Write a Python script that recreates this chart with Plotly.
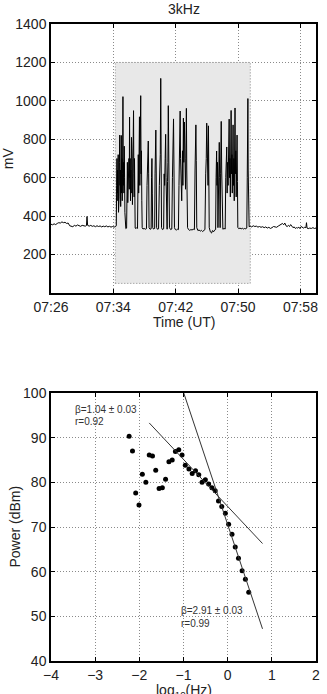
import plotly.graph_objects as go

# ---------------- data: top panel (3 kHz signal, minutes after 07:00) ----------------
pre_t = [26.0, 26.2, 26.4, 26.6, 26.8, 27.0, 27.2, 27.4, 27.6, 27.8, 28.0, 28.2, 28.4, 28.6,
         28.8, 29.0, 29.2, 29.4, 29.6, 29.8, 30.0, 30.2, 30.4, 30.55, 30.62, 30.7, 30.9, 31.1,
         31.3, 31.5, 31.7, 31.9, 32.1, 32.3, 32.5, 32.7, 32.9, 33.1, 33.3, 33.5, 33.7, 33.9,
         34.1, 34.3]
pre_v = [358, 355, 360, 356, 362, 366, 364, 370, 366, 368, 362, 364, 350, 348,
         345, 352, 348, 354, 350, 347, 352, 349, 348, 351, 398, 352, 348, 352,
         347, 350, 345, 350, 346, 349, 344, 348, 345, 349, 344, 347, 343, 346,
         343, 346]

burst_t = [34.38, 34.42, 34.46, 34.50, 34.54, 34.58, 34.62, 34.66, 34.70, 34.74, 34.78, 34.82,
           34.86, 34.90, 34.94, 34.98, 35.02, 35.06, 35.10, 35.14, 35.18, 35.23, 35.27, 35.31,
           35.36, 35.40, 35.44, 35.48, 35.52, 35.60, 35.70,
           35.75, 35.80, 35.85, 35.90, 35.95, 36.00, 36.04, 36.08, 36.12, 36.16, 36.20, 36.25,
           36.29, 36.33, 36.37, 36.41, 36.45, 36.50, 36.54, 36.59, 36.63, 36.67, 36.71, 36.75,
           36.80, 36.90, 37.00, 37.10,
           37.15, 37.20, 37.25, 37.30, 37.35, 37.40, 37.45, 37.51, 37.56, 37.60, 37.65, 37.70,
           37.80, 37.95, 38.10, 38.25,
           38.32, 38.38, 38.43, 38.48, 38.53, 38.58, 38.70, 38.85,
           38.90, 38.95, 39.00, 39.05, 39.15, 39.30,
           39.35, 39.40, 39.45, 39.50, 39.55, 39.65, 39.80,
           39.90, 39.95, 40.02, 40.08, 40.13, 40.18, 40.30, 40.45,
           40.52, 40.58, 40.65, 40.71, 40.76, 40.82, 40.90,
           40.95, 41.00, 41.05, 41.10, 41.15, 41.20, 41.35, 41.50,
           41.58, 41.65, 41.72, 41.78, 41.84, 41.95, 42.10, 42.25, 42.35,
           42.42, 42.47, 42.52, 42.57, 42.62, 42.67, 42.72, 42.77, 42.82, 42.87, 42.92, 42.99,
           43.04, 43.11, 43.16, 43.21, 43.26, 43.31, 43.37, 43.42, 43.47, 43.52,
           43.65, 43.80, 43.95, 44.10, 44.25, 44.40,
           44.48, 44.54, 44.59, 44.64, 44.70,
           44.85, 45.00, 45.15, 45.30, 45.45, 45.60, 45.75,
           45.85, 45.92, 45.98, 46.04, 46.10, 46.15, 46.20, 46.25, 46.30,
           46.45, 46.60, 46.72, 46.85, 47.00, 47.12,
           47.18, 47.25, 47.30, 47.36, 47.42, 47.48, 47.54, 47.59, 47.64, 47.70, 47.76, 47.84,
           47.90, 47.96, 48.05, 48.20, 48.35,
           48.42, 48.48, 48.55, 48.60, 48.66, 48.72, 48.78, 48.86, 48.91, 48.96, 49.01, 49.06,
           49.11, 49.16, 49.21, 49.26, 49.31, 49.36, 49.41, 49.46, 49.51, 49.56, 49.61, 49.66,
           49.71, 49.76, 49.81, 49.87, 49.92, 49.97,
           50.10, 50.25, 50.40, 50.55, 50.70, 50.85, 51.00, 51.12,
           51.18, 51.22, 51.26, 51.30, 51.35, 51.42]
burst_v = [350, 560, 700, 520, 640, 480, 720, 420, 600, 500, 680, 822,
           560, 640, 450, 600, 820, 520, 700, 480, 620, 1022, 560, 680,
           520, 764, 600, 420, 345, 335, 338,
           560, 680, 470, 620, 500, 700, 540, 916, 600, 700, 480, 640,
           520, 810, 560, 700, 460, 620, 540, 949, 620, 500, 700, 380,
           338, 335, 340, 336,
           600, 720, 520, 760, 917, 560, 700, 1027, 620, 740, 480, 340,
           333, 336, 332, 335,
           560, 680, 600, 791, 620, 340, 332, 334,
           600, 700, 520, 340, 333, 336,
           620, 700, 848, 640, 340, 332, 334,
           560, 640, 720, 1117, 640, 340, 330, 334,
           620, 560, 700, 826, 600, 340, 332,
           580, 680, 975, 720, 560, 340, 330, 333,
           600, 720, 906, 640, 340, 330, 328, 332, 330,
           560, 720, 640, 947, 700, 520, 680, 480, 620, 740, 560, 910,
           680, 890, 620, 760, 540, 700, 961, 640, 500, 340,
           330, 326, 330, 328, 332, 330,
           640, 720, 875, 690, 340,
           325, 328, 322, 326, 320, 325, 330,
           620, 700, 884, 650, 720, 560, 870, 640, 340,
           318, 312, 325, 318, 328, 330,
           600, 739, 560, 680, 340, 560, 700, 784, 600, 340, 620, 893,
           640, 340, 332, 336, 333,
           600, 700, 760, 520, 680, 560, 720, 905, 600, 700, 500, 660,
           950, 620, 720, 520, 680, 875, 560, 700, 480, 640, 963, 620,
           740, 500, 660, 822, 580, 340,
           335, 338, 334, 337, 333, 336, 334, 338,
           600, 700, 1012, 640, 560, 345]

post_t = [51.55, 51.75, 51.95, 52.15, 52.35, 52.55, 52.75, 52.95, 53.15, 53.35, 53.55, 53.75,
          53.95, 54.15, 54.35, 54.55, 54.75, 54.95, 55.15, 55.35, 55.55, 55.7, 55.85, 56.0,
          56.15, 56.3, 56.45, 56.6, 56.75, 56.9, 57.05, 57.2, 57.35, 57.5, 57.65, 57.8,
          57.95, 58.1, 58.25, 58.4, 58.55, 58.7, 58.78, 58.85, 59.0, 59.2, 59.4, 59.6,
          59.8, 60.0]
post_v = [348, 344, 350, 346, 348, 343, 346, 342, 345, 340, 344, 338,
          342, 336, 340, 346, 344, 342, 348, 352, 358, 362, 355, 364,
          350, 346, 352, 346, 356, 344, 340, 344, 336, 340, 338, 342,
          336, 346, 340, 338, 342, 340, 366, 338, 335, 338, 336, 340,
          336, 338]

time_min = pre_t + burst_t + post_t
signal_mv = pre_v + burst_v + post_v

time_ticks = [26, 34, 42, 50, 58]
time_labels = ["07:26", "07:34", "07:42", "07:50", "07:58"]
mv_ticks = [200, 400, 600, 800, 1000, 1200, 1400]

shade_t0, shade_t1 = 34.25, 51.57
shade_v0, shade_v1 = 50, 1200

# ---------------- data: bottom panel (spectrum) ----------------
log_f = [-2.231, -2.155, -2.082, -2.008, -1.932, -1.852, -1.776, -1.702, -1.629, -1.553,
         -1.479, -1.406, -1.330, -1.256, -1.183, -1.107, -1.033, -0.960, -0.877, -0.803,
         -0.728, -0.654, -0.580, -0.505, -0.431, -0.357, -0.282, -0.208, -0.134, -0.052,
         0.022, 0.098, 0.171, 0.245, 0.327, 0.401, 0.477]
power_dbm = [90.3, 87.0, 77.6, 74.9, 81.8, 80.0, 86.1, 85.9, 82.7, 78.6,
             78.8, 80.7, 84.6, 85.0, 86.9, 87.3, 86.1, 83.8, 83.0, 82.0,
             82.6, 81.7, 80.0, 80.6, 79.6, 78.8, 78.1, 75.8, 74.6, 73.1,
             70.6, 68.4, 65.5, 63.0, 60.2, 58.3, 55.4]

fit1_x = [-1.776, 0.789]
fit1_y = [93.3, 66.3]
fit2_x = [-0.994, 0.789]
fit2_y = [100.0, 47.2]

log_ticks = [-4, -3, -2, -1, 0, 1, 2]
power_ticks = [40, 50, 60, 70, 80, 90, 100]

# ---------------- figure ----------------
FONT = "Liberation Sans, Arial, sans-serif"
fig = go.Figure()

fig.add_trace(go.Scatter(x=time_min, y=signal_mv, mode="lines",
                         line=dict(color="black", width=1),
                         xaxis="x", yaxis="y", showlegend=False, hoverinfo="skip"))

fig.add_trace(go.Scatter(x=log_f, y=power_dbm, mode="markers",
                         marker=dict(color="black", size=5),
                         xaxis="x2", yaxis="y2", showlegend=False))
fig.add_trace(go.Scatter(x=fit1_x, y=fit1_y, mode="lines",
                         line=dict(color="#333333", width=1),
                         xaxis="x2", yaxis="y2", showlegend=False))
fig.add_trace(go.Scatter(x=fit2_x, y=fit2_y, mode="lines",
                         line=dict(color="#333333", width=1),
                         xaxis="x2", yaxis="y2", showlegend=False))

fig.add_shape(type="rect", xref="x", yref="y",
              x0=shade_t0, x1=shade_t1, y0=shade_v0, y1=shade_v1,
              fillcolor="#e8e8e8", line=dict(color="#8a8a8a", width=1, dash="1px,2px"),
              layer="between")

axis_common = dict(showline=True, mirror="ticks", linecolor="black", linewidth=1.5,
                   ticks="inside", ticklen=4, tickcolor="black",
                   showgrid=True, gridcolor="#8a8a8a", griddash="1px,2px", gridwidth=1,
                   zeroline=False, tickfont=dict(size=14, color="#222", family=FONT))

top_bottom = (661 - 293) / 637
bot_top = (661 - 393) / 637

fig.update_layout(
    width=327, height=694,
    margin=dict(l=51, r=7, t=24, b=33),
    paper_bgcolor="white", plot_bgcolor="white",
    font=dict(family=FONT, color="#222"),
    xaxis=dict(domain=[0, 1], range=[26, 60], tickvals=time_ticks, ticktext=time_labels,
               anchor="y", **axis_common),
    yaxis=dict(domain=[top_bottom, 1], range=[0, 1400], tickvals=mv_ticks,
               anchor="x", **axis_common),
    xaxis2=dict(domain=[0, 1], range=[-4, 2], tickvals=log_ticks,
                anchor="y2", **axis_common),
    yaxis2=dict(domain=[0, bot_top], range=[40, 100], tickvals=power_ticks,
                anchor="x2", **axis_common),
)

ann = []
ann.append(dict(text="3kHz", x=0.5, y=(661 - 9) / 637, xref="paper", yref="paper",
                showarrow=False, font=dict(size=14), xanchor="center", yanchor="middle"))
ann.append(dict(text="Time (UT)", x=0.5, y=(661 - 322) / 637, xref="paper", yref="paper",
                showarrow=False, font=dict(size=14), xanchor="center", yanchor="middle"))
ann.append(dict(text="mV", x=(7 - 51) / 269, y=(top_bottom + 1) / 2, xref="paper", yref="paper",
                showarrow=False, font=dict(size=14), textangle=-90,
                xanchor="center", yanchor="middle"))
ann.append(dict(text="Power (dBm)", x=(14 - 51) / 269, y=bot_top / 2, xref="paper", yref="paper",
                showarrow=False, font=dict(size=14), textangle=-90,
                xanchor="center", yanchor="middle"))
ann.append(dict(text="log<sub>10</sub>(Hz)", x=0.5, y=(661 - 680) / 637, xref="paper", yref="paper",
                showarrow=False, font=dict(size=14), xanchor="center", yanchor="top"))
for txt, xx, yy in [("β=1.04 ± 0.03", -3.51, 96.4), ("r=0.92", -3.51, 93.6),
                    ("β=2.91 ± 0.03", -1.10, 51.2), ("r=0.99", -1.10, 48.4)]:
    ann.append(dict(text=txt, x=xx, y=yy, xref="x2", yref="y2", showarrow=False,
                    font=dict(size=10, color="#333"), xanchor="left", yanchor="middle"))
fig.update_layout(annotations=ann)

fig.write_html("out.html")
